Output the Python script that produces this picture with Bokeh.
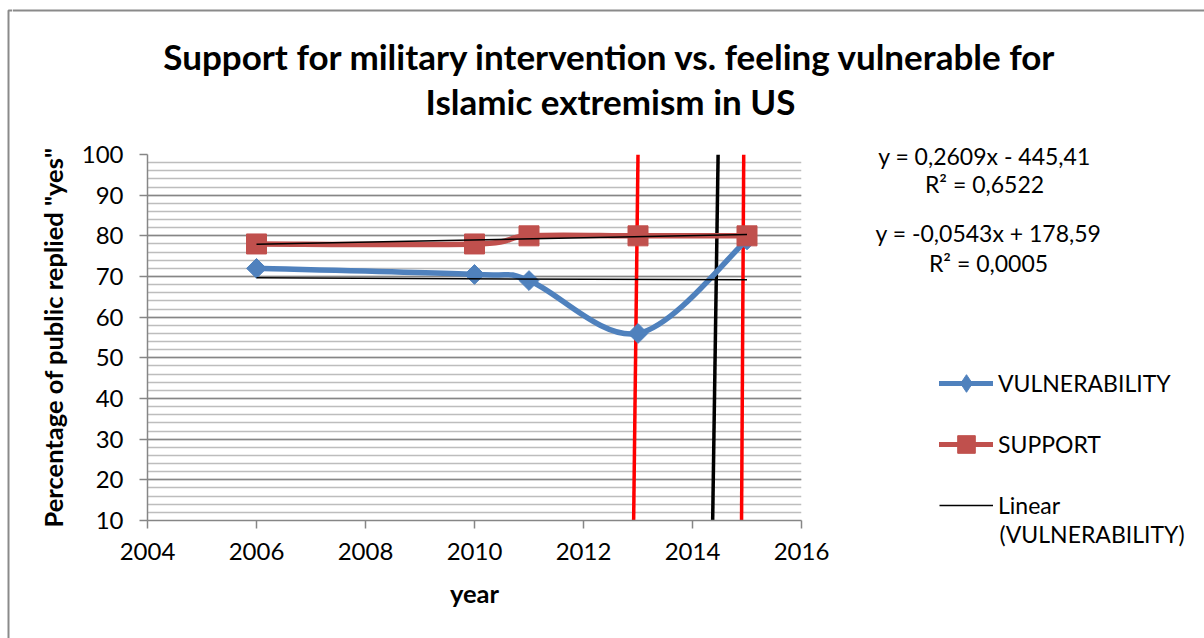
import math
from bokeh.plotting import figure
from bokeh.layouts import column, row
from bokeh.models import (Range1d, FixedTicker, Legend, LegendItem, ColumnDataSource)
from bokeh.core.properties import value
from bokeh.embed import file_html
from bokeh.resources import INLINE

# ---- data -------------------------------------------------------------
years = [2006, 2010, 2011, 2013, 2015]
vulnerability = [72, 70.5, 69, 56, 79]
support = [78, 78, 80, 80, 80]

# linear trendlines: (slope, intercept)
trend_support = (0.2609, -445.41)
trend_vulnerability = (-0.0543, 178.59)
equation_lines = ["y = 0,2609x - 445,41", "R² = 0,6522",
                  "y = -0,0543x + 178,59", "R² = 0,0005"]

# vertical guide lines: x at bottom (y=10), x at top (y=100), colour
guide_x_bottom = [2012.92, 2014.37, 2014.90]
guide_x_top = [2013.00, 2014.47, 2014.94]
guide_colors = ["#FF0000", "#000000", "#FF0000"]

x_ticks = [2004, 2006, 2008, 2010, 2012, 2014, 2016]
y_ticks = [10, 20, 30, 40, 50, 60, 70, 80, 90, 100]
y_minor = list(range(10, 101, 2))

title_lines = ["Support for military intervention vs. feeling vulnerable for",
               "Islamic extremism in US"]
legend_labels = ["VULNERABILITY", "SUPPORT", "Linear"]
legend_label_cont = "(VULNERABILITY)"

FONT = "Lato"
BLUE = "#4F81BD"
RED = "#C0504D"
BORDER = "#8a8a8a"
TICK_SIZE = "24px"
AXIS_TITLE_SIZE = "25.5px"

W, H = 1204, 638
TOP_H = 140          # title strip height
LEFT_W = 12          # strip carrying the chart border on the left
MAIN_W = 848         # plot panel width
SIDE_W = W - LEFT_W - MAIN_W
BODY_H = H - TOP_H


def blank(width, height, x_range, y_range):
    f = figure(width=width, height=height, output_backend="svg",
               toolbar_location=None, x_range=x_range, y_range=y_range,
               x_axis_type=None, y_axis_type=None, min_border=0,
               frame_align=False)
    f.outline_line_color = None
    f.grid.visible = False
    f.background_fill_color = "white"
    f.border_fill_color = "white"
    return f


def smooth_segments(xs, ys):
    """Cubic Bezier pieces through the points (Catmull-Rom style tangents)."""
    n = len(xs)
    d = {k: [] for k in ("x0", "y0", "x1", "y1", "cx0", "cy0", "cx1", "cy1")}
    for i in range(n - 1):
        a, b = max(i - 1, 0), min(i + 2, n - 1)
        d["x0"].append(xs[i]); d["y0"].append(ys[i])
        d["x1"].append(xs[i + 1]); d["y1"].append(ys[i + 1])
        d["cx0"].append(xs[i] + (xs[i + 1] - xs[a]) / 6)
        d["cy0"].append(ys[i] + (ys[i + 1] - ys[a]) / 6)
        d["cx1"].append(xs[i + 1] - (xs[b] - xs[i]) / 6)
        d["cy1"].append(ys[i + 1] - (ys[b] - ys[i]) / 6)
    return ColumnDataSource(d)


# ---- left border strip, full height (pixel coordinates, y downwards) ---
left = blank(LEFT_W, H, Range1d(0, LEFT_W), Range1d(H, 0))
left.line([LEFT_W, 8, 8], [10, 10, H], line_color=BORDER, line_width=2)

# ---- title strip (pixel coordinates of the page, y downwards) ---------
top = blank(W - LEFT_W, TOP_H, Range1d(LEFT_W, W), Range1d(TOP_H, 0))
top.line([LEFT_W, W], [10, 10], line_color=BORDER, line_width=2)
top.text(x=[610, 610], y=[55, 100], text=title_lines, text_font=value(FONT),
         text_font_style="bold", text_font_size="35px", text_color="black",
         text_align="center", text_baseline="middle")

# ---- main plot ---------------------------------------------------------
p = figure(width=MAIN_W, height=BODY_H, output_backend="svg", toolbar_location=None,
           x_range=Range1d(2004, 2016), y_range=Range1d(10, 100),
           min_border_left=147 - LEFT_W, min_border_right=LEFT_W + MAIN_W - 801,
           min_border_top=154 - TOP_H, min_border_bottom=H - 520,
           frame_align=False)
p.outline_line_color = None
p.background_fill_color = "white"
p.border_fill_color = "white"

for ax in (p.xaxis[0], p.yaxis[0]):
    ax.axis_line_color = "#868686"
    ax.axis_line_width = 1.5
    ax.major_tick_line_color = "#868686"
    ax.major_tick_line_width = 1.5
    ax.major_tick_out = 8
    ax.major_tick_in = 0
    ax.minor_tick_out = 0
    ax.minor_tick_in = 0
    ax.major_label_text_font = FONT
    ax.major_label_text_font_size = TICK_SIZE
    ax.major_label_text_color = "black"
    ax.axis_label_text_font = FONT
    ax.axis_label_text_font_size = AXIS_TITLE_SIZE
    ax.axis_label_text_font_style = "bold"
    ax.axis_label_text_color = "black"

p.xaxis.ticker = FixedTicker(ticks=x_ticks)
p.yaxis.ticker = FixedTicker(ticks=y_ticks, minor_ticks=y_minor)
p.xaxis.major_label_standoff = 14
p.yaxis.major_label_standoff = 16
p.xaxis.axis_label = "year"
p.xaxis.axis_label_standoff = 15
p.yaxis.axis_label = 'Percentage of public replied "yes"'
p.yaxis.axis_label_standoff = 11

p.xgrid.grid_line_color = None
p.ygrid.grid_line_color = "#868686"
p.ygrid.grid_line_width = 1.5
p.ygrid.minor_grid_line_color = "#bdbdbd"
p.ygrid.minor_grid_line_width = 1.5

# vertical guide lines
p.segment(x0=guide_x_bottom, y0=[10] * 3, x1=guide_x_top, y1=[100] * 3,
          line_color=guide_colors, line_width=3.5)

# smoothed series
p.bezier(source=smooth_segments(years, vulnerability), x0="x0", y0="y0",
         x1="x1", y1="y1", cx0="cx0", cy0="cy0", cx1="cx1", cy1="cy1",
         line_color=BLUE, line_width=5.5, line_cap="round")
p.bezier(source=smooth_segments(years, support), x0="x0", y0="y0",
         x1="x1", y1="y1", cx0="cx0", cy0="cy0", cx1="cx1", cy1="cy1",
         line_color=RED, line_width=5.5, line_cap="round")
p.scatter(years, vulnerability, marker="square", angle=math.pi / 4, size=14,
          fill_color=BLUE, line_color=BLUE)
p.scatter(years, support, marker="square", size=20, fill_color=RED, line_color=RED)

# linear trendlines across the data span
tx = [years[0], years[-1]]
p.line(tx, [trend_support[0] * x + trend_support[1] for x in tx],
       line_color="black", line_width=1.5)
p.line(tx, [trend_vulnerability[0] * x + trend_vulnerability[1] for x in tx],
       line_color="black", line_width=1.5)

# ---- side panel: equations and legend (pixel coordinates) ---------------
x0_side = LEFT_W + MAIN_W
side = blank(SIDE_W, BODY_H, Range1d(x0_side, W), Range1d(H, TOP_H))
side.text(x=[984, 984, 988, 988], y=[155, 183, 232, 262], text=equation_lines,
          text_font=value(FONT), text_font_size="23px", text_color="black",
          text_align="center", text_baseline="middle")
side.text(x=[999], y=[533], text=[legend_label_cont], text_font=value(FONT),
          text_font_size="23px", text_color="black",
          text_align="left", text_baseline="middle")

nan = float("nan")
k_blue_l = side.line([nan], [nan], line_color=BLUE, line_width=5, line_cap="round")
k_blue_m = side.scatter([nan], [nan], marker="diamond", size=18,
                        fill_color=BLUE, line_color=BLUE)
k_red_l = side.line([nan], [nan], line_color=RED, line_width=5, line_cap="round")
k_red_m = side.scatter([nan], [nan], marker="square", size=18,
                       fill_color=RED, line_color=RED)
k_trend = side.line([nan], [nan], line_color="black", line_width=1.5)

legend = Legend(items=[
    LegendItem(label=legend_labels[0], renderers=[k_blue_l, k_blue_m]),
    LegendItem(label=legend_labels[1], renderers=[k_red_l, k_red_m]),
    LegendItem(label=legend_labels[2], renderers=[k_trend]),
], location=(939 - x0_side, H - 527), orientation="vertical",
    glyph_width=54, glyph_height=44, label_height=20, spacing=17,
    label_standoff=5, padding=0, margin=0,
    border_line_color=None, background_fill_alpha=0,
    label_text_font=FONT, label_text_font_size="23px", label_text_color="black")
side.add_layout(legend, "center")

page = row(left, column(top, row(p, side)))
open("out.html", "w").write(file_html(page, INLINE))
